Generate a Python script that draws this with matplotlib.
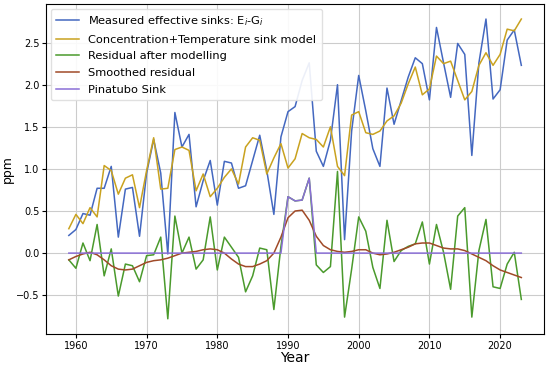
import numpy as np
import matplotlib
matplotlib.use('Agg')
import matplotlib.pyplot as plt

# years of the record
years = np.arange(1959, 2024)

# measured effective sinks E_i - G_i
measured = [0.21, 0.28, 0.47, 0.45, 0.77, 0.77, 1.03, 0.19, 0.76, 0.78, 0.20,
            0.95, 1.35, 0.95, -0.01, 1.67, 1.26, 1.41, 0.55, 0.86, 1.10,
            0.57, 1.09, 1.07, 0.77, 0.80, 1.10, 1.40, 0.98, 0.46, 1.38,
            1.68, 1.74, 2.05, 2.26, 1.21, 1.03, 1.34, 2.00, 0.16, 1.45,
            2.11, 1.69, 1.24, 1.03, 1.96, 1.53, 1.81, 2.09, 2.32, 2.25,
            1.82, 2.68, 2.26, 1.85, 2.49, 2.36, 1.16, 2.26, 2.78, 1.83,
            1.94, 2.53, 2.65, 2.23]

# concentration + temperature sink model
model = [0.29, 0.46, 0.35, 0.54, 0.43, 1.04, 0.98, 0.70, 0.89, 0.93, 0.54,
         0.98, 1.37, 0.76, 0.77, 1.23, 1.26, 1.22, 0.74, 0.94, 0.67,
         0.77, 0.90, 1.00, 0.82, 1.26, 1.37, 1.34, 0.94, 1.13, 1.30,
         1.01, 1.12, 1.42, 1.37, 1.35, 1.26, 1.50, 1.03, 0.92, 1.64,
         1.68, 1.43, 1.41, 1.45, 1.57, 1.63, 1.78, 2.01, 2.21, 1.88,
         1.95, 2.34, 2.25, 2.28, 2.05, 1.82, 1.92, 2.23, 2.38, 2.23,
         2.36, 2.66, 2.64, 2.78]

# residual after modelling
residual = [-0.08, -0.18, 0.12, -0.09, 0.34, -0.27, 0.05, -0.51, -0.13, -0.15, -0.34,
            -0.03, -0.02, 0.19, -0.78, 0.44, 0.00, 0.19, -0.19, -0.08, 0.43,
            -0.20, 0.19, 0.07, -0.05, -0.46, -0.27, 0.06, 0.04, -0.67, 0.08,
            0.67, 0.62, 0.63, 0.89, -0.14, -0.23, -0.16, 0.97, -0.76, -0.19,
            0.43, 0.26, -0.17, -0.42, 0.39, -0.10, 0.03, 0.08, 0.11, 0.37,
            -0.13, 0.34, 0.01, -0.43, 0.44, 0.54, -0.76, 0.03, 0.40, -0.40,
            -0.42, -0.13, 0.01, -0.55]

# smoothed residual
smoothed = [-0.08, -0.04, -0.01, 0.01, -0.02, -0.08, -0.15, -0.19, -0.20, -0.19, -0.15,
            -0.11, -0.09, -0.08, -0.06, -0.03, 0.00, 0.01, 0.02, 0.04, 0.05,
            0.04, 0.00, -0.07, -0.13, -0.16, -0.16, -0.13, -0.09, 0.00, 0.19,
            0.42, 0.50, 0.51, 0.39, 0.20, 0.09, 0.04, 0.02, 0.01, 0.02,
            0.04, 0.04, 0.00, -0.02, -0.01, 0.01, 0.04, 0.07, 0.11, 0.12,
            0.12, 0.09, 0.06, 0.05, 0.05, 0.03, -0.01, -0.05, -0.09, -0.15,
            -0.20, -0.23, -0.26, -0.29]

# Pinatubo sink (zero outside 1990-1993)
pinatubo = [0.0] * 31 + [0.67, 0.62, 0.63, 0.89] + [0.0] * 30

fig = plt.figure(figsize=(5.5, 3.68), dpi=100)
ax = fig.add_axes([0.084, 0.093, 0.905, 0.896])

ax.plot(years, measured, color='#4468c0', lw=1.1, label='Measured effective sinks: E$_i$-G$_i$')
ax.plot(years, model, color='#c9a21f', lw=1.1, label='Concentration+Temperature sink model')
ax.plot(years, residual, color='#4a9a2c', lw=1.1, label='Residual after modelling')
ax.plot(years, smoothed, color='#a04a28', lw=1.1, label='Smoothed residual')
ax.plot(years, pinatubo, color='#8a6fd6', lw=1.1, label='Pinatubo Sink')

ax.grid(True, color='#cccccc', lw=0.8)
ax.set_axisbelow(True)
ax.tick_params(labelsize=7, length=3, pad=2)
ax.set_xlabel('Year', fontsize=10, labelpad=0)
ax.set_ylabel('ppm', fontsize=9, labelpad=1)

ax.legend(loc='upper left', fontsize=8.2, labelspacing=0.58, handlelength=2.0,
          borderpad=0.5, borderaxespad=0.4, framealpha=0.9, edgecolor='#dddddd')

fig.savefig('out.png', dpi=100)
